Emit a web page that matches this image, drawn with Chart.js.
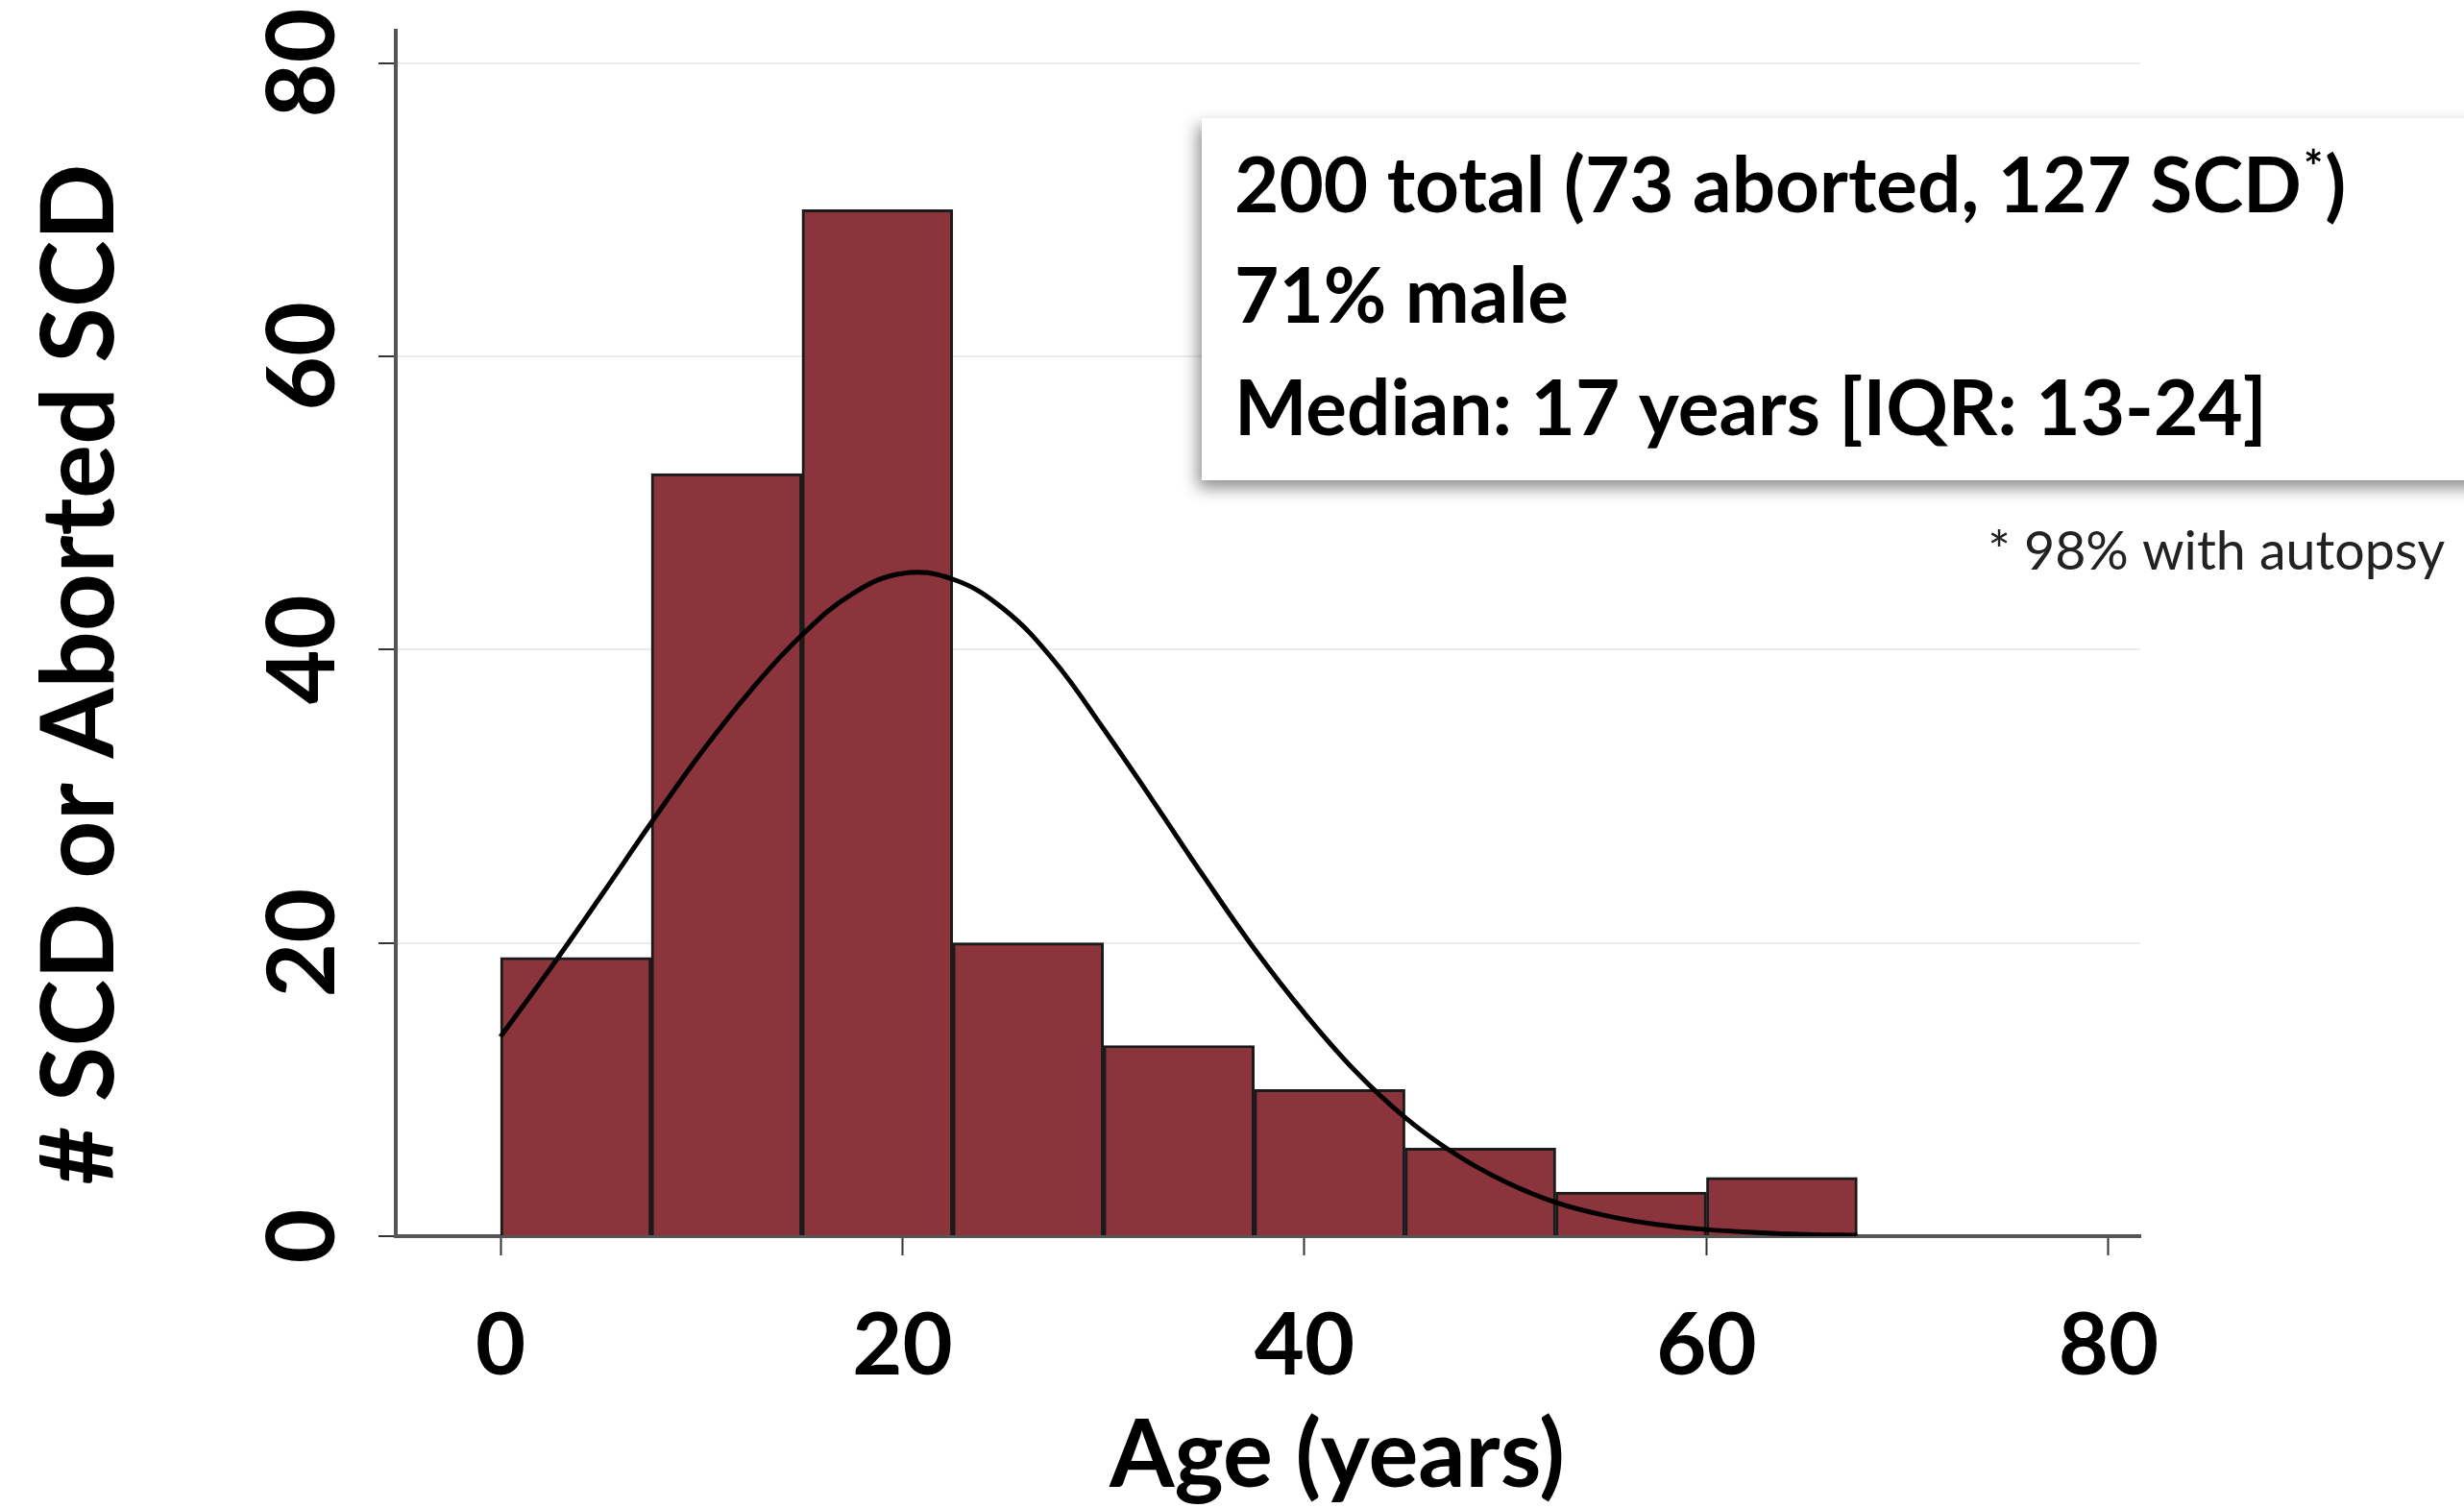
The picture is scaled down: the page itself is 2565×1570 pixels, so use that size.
<!DOCTYPE html>
<html>
<head>
<meta charset="utf-8">
<script src="https://cdn.jsdelivr.net/npm/chart.js@4.4.1/dist/chart.umd.min.js"></script>
<style>
html, body { margin: 0; padding: 0; background: #fff; }
#wrap { width: 2565px; height: 1570px; position: relative; }
</style>
</head>
<body>
<div id="wrap"><canvas id="myChart"></canvas></div>
<script>
// histogram bins (age in years) and counts
const binStart = [0, 7.5, 15, 22.5, 30, 37.5, 45, 52.5, 60];
const binWidth = 7.5;
const counts = [19, 52, 70, 20, 13, 10, 6, 3, 4];

// fitted curve, every 2.5 years
const curveAge = [0, 2.5, 5, 7.5, 10, 12.5, 15, 17.5, 20, 22.5, 25, 27.5, 30, 32.5,
  35, 37.5, 40, 42.5, 45, 47.5, 50, 52.5, 55, 57.5, 60, 62.5, 65, 67.5];
const curveCount = [13.6, 18.3, 23.2, 28.2, 33, 37.3, 41, 43.8, 45.2, 44.8, 42.8, 39.3, 34.6, 29.6,
  24.5, 19.6, 15.2, 11.3, 8.1, 5.6, 3.7, 2.3, 1.4, 0.8, 0.45, 0.25, 0.12, 0.06];

const xTicks = [0, 20, 40, 60, 80];
const yTicks = [0, 20, 40, 60, 80];

const xTitle = "Age (years)";
const yTitle = "# SCD or Aborted SCD";
const boxLines = ["200 total (73 aborted, 127 SCD", "71% male", "Median: 17 years [IQR: 13-24]"];
const footnote = "* 98% with autopsy";

const barData = binStart.map((b, i) => ({ x: b + binWidth / 2, y: counts[i] }));
const curveData = curveAge.map((a, i) => ({ x: a, y: curveCount[i] }));

function fitSize(ctx, text, weight, target) {
  ctx.font = weight + " 100px Lato";
  return 100 * target / ctx.measureText(text).width;
}

// textos: y tick labels, axis titles, box and footnote
const textos = {
  id: "textos",
  afterDraw(chart) {
    const ctx = chart.ctx;
    const area = chart.chartArea;
    const ys = chart.scales.y;
    ctx.save();
    ctx.fillStyle = "#000";
    ctx.textBaseline = "alphabetic";

    // y tick labels, rotated
    ctx.font = "bold 98px Lato";
    ctx.textAlign = "center";
    yTicks.forEach(v => {
      ctx.save();
      ctx.translate(area.left - 64, ys.getPixelForValue(v));
      ctx.rotate(-Math.PI / 2);
      ctx.fillText(String(v), 0, 0);
      ctx.restore();
    });

    // y title
    let s = fitSize(ctx, yTitle, "bold", 1063);
    ctx.font = "bold " + s + "px Lato";
    ctx.save();
    ctx.translate(area.left - 294, area.top + 0.534 * (area.bottom - area.top));
    ctx.rotate(-Math.PI / 2);
    ctx.fillText(yTitle, 0, 0);
    ctx.restore();

    // x title
    s = fitSize(ctx, xTitle, "bold", 474);
    ctx.font = "bold " + s + "px Lato";
    ctx.fillText(xTitle, 1392, 1548);

    // box with shadow
    ctx.save();
    ctx.shadowColor = "rgba(0,0,0,0.45)";
    ctx.shadowBlur = 16;
    ctx.shadowOffsetX = -4;
    ctx.shadowOffsetY = 8;
    ctx.fillStyle = "#fff";
    ctx.fillRect(1251, 123, 1400, 377);
    ctx.restore();

    ctx.textAlign = "left";
    s = fitSize(ctx, boxLines[0] + "*)", "bold", 1167);
    ctx.font = "bold " + s + "px Lato";
    ctx.fillText(boxLines[0], 1285, 221);
    let w = ctx.measureText(boxLines[0]).width;
    ctx.font = "bold " + (s * 0.6) + "px Lato";
    ctx.fillText("*", 1285 + w + 2, 221 - s * 0.38);
    const ws = ctx.measureText("*").width;
    ctx.font = "bold " + s + "px Lato";
    ctx.fillText(")", 1285 + w + ws + 4, 221);
    ctx.fillText(boxLines[1], 1285, 336);
    ctx.fillText(boxLines[2], 1285, 453);

    // footnote
    s = fitSize(ctx, footnote, "normal", 476);
    ctx.font = "normal " + s + "px Lato";
    ctx.fillStyle = "#222";
    ctx.textAlign = "right";
    ctx.fillText(footnote, 2545, 593);
    ctx.restore();
  }
};

const config = {
  type: "bar",
  data: {
    datasets: [
      {
        type: "line",
        data: curveData,
        borderColor: "#000",
        borderWidth: 5,
        pointRadius: 0,
        fill: false,
        tension: 0.4,
        order: 0
      },
      {
        type: "bar",
        data: barData,
        backgroundColor: "rgb(140,52,60)",
        borderColor: "#1a1a1a",
        borderWidth: 3,
        barPercentage: 1,
        categoryPercentage: 1,
        order: 1
      }
    ]
  },
  options: {
    responsive: true,
    maintainAspectRatio: false,
    animation: false,
    layout: { padding: { left: 0, top: 32, right: 337, bottom: 0 } },
    plugins: { legend: { display: false }, tooltip: { enabled: false } },
    scales: {
      x: {
        type: "linear",
        offset: false,
        min: -5.21,
        max: 81.58,
        afterBuildTicks: sc => { sc.ticks = xTicks.map(v => ({ value: v })); },
        afterFit: sc => { sc.height = 283; },
        grid: { display: true, offset: false, drawOnChartArea: false, drawTicks: true, tickLength: 20, tickColor: "#333", tickWidth: 2 },
        border: { display: true, color: "#555", width: 4 },
        ticks: { autoSkip: false, maxRotation: 0, padding: 41, color: "#000",
          font: { family: "Lato", weight: "bold", size: 90 } }
      },
      y: {
        type: "linear",
        min: 0,
        max: 82.2,
        afterBuildTicks: sc => { sc.ticks = yTicks.map(v => ({ value: v })); },
        afterFit: sc => { sc.width = 412; },
        grid: {
          color: c => (c.tick && c.tick.value === 0) ? "#555" : "#ececec",
          lineWidth: 2,
          drawTicks: true,
          tickLength: 18,
          tickColor: "#333",
          tickWidth: 2
        },
        border: { display: true, color: "#555", width: 4 },
        ticks: { display: false }
      }
    }
  },
  plugins: [textos]
};

const chart = new Chart(document.getElementById("myChart"), config);
</script>
</body>
</html>
